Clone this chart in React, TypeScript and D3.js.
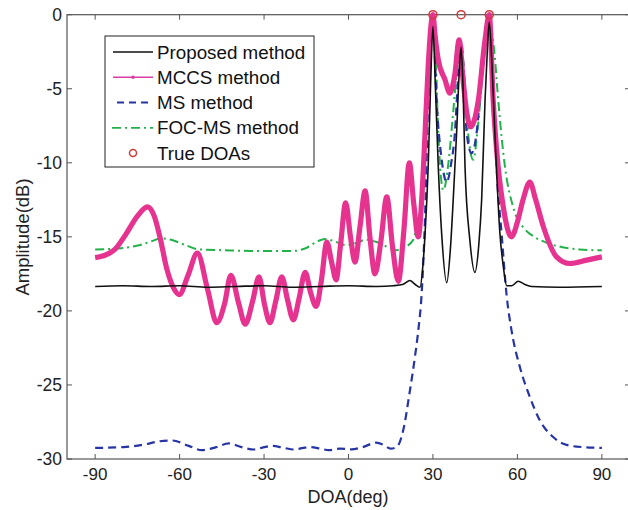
import React from 'react';
import * as d3 from 'd3';

// [DOA deg, amplitude dB]
const proposed: [number, number][] = [
  [-90, -18.35], [-80, -18.3], [-70, -18.35], [-60, -18.3], [-50, -18.4], [-40, -18.35],
  [-30, -18.3], [-20, -18.4], [-10, -18.35], [0, -18.3], [10, -18.35], [16, -18.3],
  [19.5, -18.2], [21.8, -17.95], [23.6, -18.2], [25.4, -18.4], [26.4, -17], [27.2, -14.8],
  [28.3, -10.3], [29.2, -4.5], [30, -0.8], [30.8, -4.5], [31.9, -10.3], [33.1, -14.8],
  [34.9, -18.1], [36.2, -15.8], [37.2, -12.5], [38.4, -8], [39.3, -4], [40, -2.2],
  [40.7, -5], [41.4, -10.3], [43.1, -15.2], [44.9, -17.4], [46.3, -15.5], [47.3, -12.5],
  [48.5, -5.8], [49.3, -2.5], [50, -0.5], [51, -3.5], [52, -8], [53.8, -14.8], [55, -17],
  [56.2, -18.3], [58, -18.3], [60.3, -18.0], [62.5, -18.2], [65, -18.35], [75, -18.4],
  [90, -18.35],
];

const mccs: [number, number][] = [
  [-90, -16.4], [-86, -16.2], [-83, -15.85], [-79, -14.8], [-75, -13.6], [-71.4, -12.97],
  [-69, -13.6], [-67, -15.0], [-64.5, -17.2], [-62, -18.5], [-60.1, -18.9], [-57, -17.6],
  [-53.7, -16.1], [-50, -18.6], [-46.8, -20.8], [-44, -19.5], [-41.8, -17.6], [-39, -19.5],
  [-36.7, -20.9], [-34, -19.3], [-31.8, -17.7], [-29.8, -19.6], [-27.9, -20.8], [-25.8, -19.3],
  [-23.7, -17.7], [-21.6, -19.3], [-19.6, -20.6], [-17.5, -19.1], [-15.4, -17.4], [-13.4, -18.8],
  [-11.5, -19.7], [-9.6, -17.9], [-7.7, -15.35], [-6, -16.7], [-4.4, -17.9], [-2.8, -15.5],
  [-1, -12.7], [0.7, -15], [2.3, -16.7], [4.1, -14.3], [5.9, -11.9], [7.6, -15], [9.4, -17.5],
  [11.5, -15.3], [13.6, -12.3], [15.6, -15.6], [17.7, -18.0], [19.7, -14.5], [21.6, -10.0],
  [23.2, -12.8], [24.8, -15.0], [26, -12.5], [27.2, -8], [28.3, -3.5], [30, 0], [30.7, -1.3],
  [31.9, -3.06], [34.3, -4.4], [36, -5.3], [37.8, -4], [39.3, -1.7], [40.8, -4.6], [42, -6.6],
  [43.4, -7.57], [46.1, -5.8], [48.5, -1.7], [50, 0], [51.4, -5.8], [52.6, -9.1], [55, -13],
  [57.9, -15.0], [60, -14], [62, -12.5], [64.4, -11.3], [66.5, -12.5], [69.2, -14.3],
  [73.9, -16.35], [78.6, -16.8], [84.6, -16.57], [90, -16.35],
];

const ms: [number, number][] = [
  [-90, -29.25], [-80, -29.2], [-72, -29.0], [-67, -28.8], [-62.5, -28.75], [-57, -29.1],
  [-52, -29.4], [-47, -29.2], [-42.5, -28.95], [-38, -29.2], [-33.5, -29.36], [-30, -29.2],
  [-27, -29.12], [-23, -29.25], [-19.5, -29.36], [-16, -29.25], [-13.5, -29.2], [-10, -29.3],
  [-7, -29.4], [-3, -29.3], [1, -29.35], [5, -29.2], [9.8, -28.9], [12.5, -29.05], [15, -29.3],
  [17.1, -29.2], [19.4, -28.1], [21.8, -25.4], [23.6, -23.1], [24.8, -21.3], [26, -18.8],
  [27.2, -13.6], [28.3, -5.8], [29.2, -2], [30, -0.2], [31.3, -5.8], [33.1, -9.8], [34.9, -11.3],
  [36.5, -10], [37.8, -8], [39, -4], [40, -1.8], [41, -4], [42, -8], [43.7, -9.35], [45.5, -8],
  [47.3, -4], [48.7, -1.2], [50, -0.1], [51.3, -4], [52.6, -10.3], [54.4, -14.8], [56.2, -19],
  [57.9, -21.3], [60.9, -23.8], [64.4, -25.8], [68, -27.4], [72.6, -28.5], [77.5, -29.05],
  [83.3, -29.2], [90, -29.25],
];

const focms: [number, number][] = [
  [-90, -15.85], [-80, -15.75], [-74, -15.55], [-70, -15.3], [-66.5, -15.1], [-63, -15.2],
  [-58, -15.55], [-53, -15.85], [-45, -15.9], [-35, -15.95], [-25, -15.95], [-19.7, -15.95],
  [-15, -15.75], [-11, -15.3], [-8.3, -15.15], [-5, -15.3], [-1, -15.55], [3, -15.4], [6, -15.2],
  [10, -15.35], [14, -15.7], [17, -15.9], [20, -15.7], [23, -15.2], [24.5, -14], [26, -12.5],
  [27, -9.5], [27.8, -5.8], [29, -2], [30, -0.5], [31, -3], [31.9, -8], [33.7, -11.85],
  [35.5, -10], [37, -7], [38.5, -3.8], [40, -2.2], [41.3, -4.5], [42.5, -8], [44.3, -9.8],
  [46, -7.5], [47.8, -3.5], [50, -0.5], [51.8, -2.5], [53.2, -5.8], [55.6, -10.3], [58.5, -13],
  [62.7, -14.5], [66, -15.0], [70.4, -15.4], [76, -15.7], [82, -15.85], [88, -15.9], [90, -15.9],
];

const trueDoas = [30, 40, 50];
const xTicks = [-90, -60, -30, 0, 30, 60, 90];
const yTicks = [0, -5, -10, -15, -20, -25, -30];
const legendLabels = ['Proposed method', 'MCCS method', 'MS method', 'FOC-MS method', 'True DOAs'];

const W = 628;
const H = 510;
const left = 67;
const right = 630;
const top = 14.7;
const bottom = 459;

const font = 'Arial, "Liberation Sans", sans-serif';

export default function App() {
  const x = d3.scaleLinear().domain([-100, 100]).range([left, right]);
  const y = d3.scaleLinear().domain([-30, 0]).range([bottom, top]);
  const line = d3
    .line<[number, number]>()
    .x((d) => x(d[0]))
    .y((d) => y(d[1]))
    .curve(d3.curveMonotoneX);

  const series = [
    { data: focms, color: '#22b24a', width: 2, dash: '9,4,2,4' },
    { data: ms, color: '#2634a4', width: 2.2, dash: '8,5' },
    { data: mccs, color: '#e6338f', width: 5.2, dash: undefined },
    { data: proposed, color: '#111', width: 1.6, dash: undefined },
  ];

  const legY = [52, 77.3, 102.5, 127.8, 153];
  const axisColor = '#555';

  return (
    <svg width={W} height={H} style={{ position: 'absolute', left: 0, top: 0, background: '#fff' }}>
      <rect x={0} y={0} width={W} height={H} fill="#fff" />
      <rect x={left} y={top} width={right - left} height={bottom - top} fill="none" stroke={axisColor} strokeWidth={1.2} />
      {xTicks.map((t) => (
        <g key={'x' + t}>
          <line x1={x(t)} x2={x(t)} y1={bottom} y2={bottom - 5} stroke={axisColor} />
          <line x1={x(t)} x2={x(t)} y1={top} y2={top + 5} stroke={axisColor} />
          <text x={x(t)} y={480} textAnchor="middle" fontFamily={font} fontSize={17} fill="#222">
            {t}
          </text>
        </g>
      ))}
      {yTicks.map((t) => (
        <g key={'y' + t}>
          <line x1={left} x2={left + 5} y1={y(t)} y2={y(t)} stroke={axisColor} />
          <line x1={right} x2={right - 5} y1={y(t)} y2={y(t)} stroke={axisColor} />
          <text x={62} y={y(t) + 6} textAnchor="end" fontFamily={font} fontSize={17.5} fill="#222">
            {t}
          </text>
        </g>
      ))}
      <text x={348} y={503} textAnchor="middle" fontFamily={font} fontSize={18} fill="#222">
        DOA(deg)
      </text>
      <text
        transform="translate(29,237) rotate(-90)"
        textAnchor="middle"
        fontFamily={font}
        fontSize={18.5}
        fill="#222"
      >
        Amplitude(dB)
      </text>

      {series.map((s, i) => (
        <path
          key={i}
          d={line(s.data) || ''}
          fill="none"
          stroke={s.color}
          strokeWidth={s.width}
          strokeDasharray={s.dash}
          strokeLinejoin="round"
        />
      ))}
      {trueDoas.map((d) => (
        <circle key={d} cx={x(d)} cy={y(0)} r={4} fill="none" stroke="#d03a3a" strokeWidth={1.5} />
      ))}

      <g>
        <rect x={105} y={36} width={209} height={131} fill="#fff" stroke="#222" strokeWidth={1} />
        <line x1={113} x2={153} y1={legY[0]} y2={legY[0]} stroke="#111" strokeWidth={1.6} />
        <line x1={113} x2={153} y1={legY[1]} y2={legY[1]} stroke="#d83ea6" strokeWidth={1.6} />
        <circle cx={133} cy={legY[1]} r={1.8} fill="#d83ea6" />
        <line x1={117} x2={153} y1={legY[2]} y2={legY[2]} stroke="#2634a4" strokeWidth={1.8} strokeDasharray="7,5" />
        <line x1={112} x2={153} y1={legY[3]} y2={legY[3]} stroke="#22b24a" strokeWidth={1.8} strokeDasharray="9,4,2,4" />
        <circle cx={133} cy={legY[4]} r={3.5} fill="none" stroke="#d03a3a" strokeWidth={1.5} />
        {legendLabels.map((l, i) => (
          <text key={l} x={157} y={legY[i] + 6.5} fontFamily={font} fontSize={18.8} fill="#111">
            {l}
          </text>
        ))}
      </g>
    </svg>
  );
}
